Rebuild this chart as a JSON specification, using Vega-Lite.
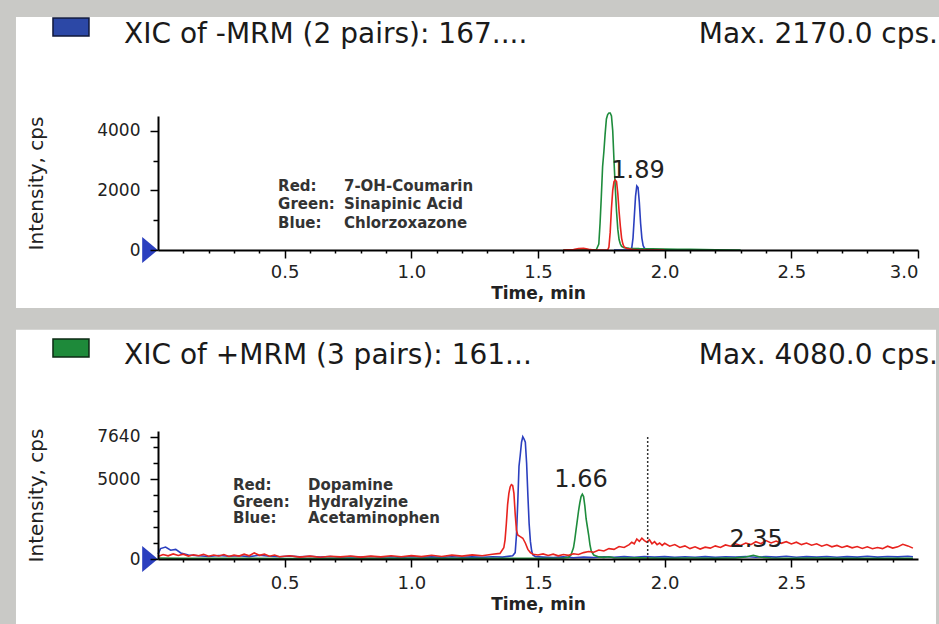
{
  "$schema": "https://vega.github.io/schema/vega-lite/v6.json",
  "background": "#c9c9c6",
  "padding": {"left": 15, "top": 14, "right": 0, "bottom": 0},
  "autosize": {"type": "pad"},
  "spacing": 20,
  "config": {
    "view": {"stroke": null},
    "font": "DejaVu Sans",
    "axis": {"grid": false, "domainColor": "#000", "domainWidth": 2, "tickColor": "#000", "tickWidth": 1.5, "labelColor": "#222", "labelFont": "DejaVu Sans", "titleFont": "DejaVu Sans", "titleColor": "#222"}
  },
  "datasets": {
    "one": [{}],
    "top": [
      {"s":"Blue","t":1.80,"v":0},{"s":"Blue","t":1.86,"v":0},{"s":"Blue","t":1.87,"v":60},{"s":"Blue","t":1.875,"v":400},{"s":"Blue","t":1.88,"v":1100},{"s":"Blue","t":1.885,"v":1800},{"s":"Blue","t":1.89,"v":2150},{"s":"Blue","t":1.895,"v":2100},{"s":"Blue","t":1.90,"v":1600},{"s":"Blue","t":1.905,"v":900},{"s":"Blue","t":1.91,"v":400},{"s":"Blue","t":1.915,"v":150},{"s":"Blue","t":1.92,"v":60},{"s":"Blue","t":1.93,"v":20},{"s":"Blue","t":1.96,"v":10},{"s":"Blue","t":2.0,"v":0},{"s":"Blue","t":2.1,"v":0},
      {"s":"Green","t":1.60,"v":0},{"s":"Green","t":1.70,"v":5},{"s":"Green","t":1.73,"v":10},{"s":"Green","t":1.74,"v":200},{"s":"Green","t":1.745,"v":900},{"s":"Green","t":1.75,"v":1800},{"s":"Green","t":1.755,"v":2800},{"s":"Green","t":1.76,"v":3300},{"s":"Green","t":1.765,"v":3900},{"s":"Green","t":1.77,"v":4400},{"s":"Green","t":1.775,"v":4550},{"s":"Green","t":1.78,"v":4600},{"s":"Green","t":1.785,"v":4600},{"s":"Green","t":1.79,"v":4500},{"s":"Green","t":1.795,"v":4000},{"s":"Green","t":1.80,"v":3000},{"s":"Green","t":1.805,"v":2100},{"s":"Green","t":1.81,"v":1300},{"s":"Green","t":1.815,"v":700},{"s":"Green","t":1.82,"v":350},{"s":"Green","t":1.825,"v":200},{"s":"Green","t":1.83,"v":120},{"s":"Green","t":1.84,"v":80},{"s":"Green","t":1.86,"v":60},{"s":"Green","t":1.90,"v":45},{"s":"Green","t":1.95,"v":40},{"s":"Green","t":2.0,"v":30},{"s":"Green","t":2.05,"v":25},{"s":"Green","t":2.1,"v":20},{"s":"Green","t":2.2,"v":10},{"s":"Green","t":2.3,"v":0},
      {"s":"Red","t":1.60,"v":0},{"s":"Red","t":1.64,"v":15},{"s":"Red","t":1.66,"v":45},{"s":"Red","t":1.68,"v":55},{"s":"Red","t":1.70,"v":25},{"s":"Red","t":1.72,"v":0},{"s":"Red","t":1.775,"v":0},{"s":"Red","t":1.78,"v":100},{"s":"Red","t":1.785,"v":600},{"s":"Red","t":1.79,"v":1400},{"s":"Red","t":1.795,"v":2000},{"s":"Red","t":1.80,"v":2300},{"s":"Red","t":1.805,"v":2350},{"s":"Red","t":1.81,"v":2300},{"s":"Red","t":1.815,"v":1900},{"s":"Red","t":1.82,"v":1300},{"s":"Red","t":1.825,"v":800},{"s":"Red","t":1.83,"v":400},{"s":"Red","t":1.835,"v":200},{"s":"Red","t":1.84,"v":100},{"s":"Red","t":1.85,"v":50},{"s":"Red","t":1.87,"v":20},{"s":"Red","t":1.9,"v":0},{"s":"Red","t":2.0,"v":0}
    ],
    "bottom": [
      {"s":"Blue","t":0.00,"v":300},{"s":"Blue","t":0.01,"v":650},{"s":"Blue","t":0.03,"v":750},{"s":"Blue","t":0.05,"v":550},{"s":"Blue","t":0.07,"v":600},{"s":"Blue","t":0.09,"v":380},{"s":"Blue","t":0.12,"v":250},{"s":"Blue","t":0.16,"v":200},{"s":"Blue","t":0.20,"v":160},{"s":"Blue","t":0.24,"v":220},{"s":"Blue","t":0.28,"v":170},{"s":"Blue","t":0.32,"v":200},{"s":"Blue","t":0.36,"v":150},{"s":"Blue","t":0.40,"v":230},{"s":"Blue","t":0.44,"v":170},{"s":"Blue","t":0.48,"v":140},{"s":"Blue","t":0.52,"v":190},{"s":"Blue","t":0.56,"v":130},{"s":"Blue","t":0.60,"v":170},{"s":"Blue","t":0.64,"v":120},{"s":"Blue","t":0.68,"v":160},{"s":"Blue","t":0.72,"v":110},{"s":"Blue","t":0.76,"v":150},{"s":"Blue","t":0.80,"v":120},{"s":"Blue","t":0.84,"v":160},{"s":"Blue","t":0.88,"v":110},{"s":"Blue","t":0.92,"v":140},{"s":"Blue","t":0.96,"v":100},{"s":"Blue","t":1.00,"v":150},{"s":"Blue","t":1.04,"v":110},{"s":"Blue","t":1.08,"v":130},{"s":"Blue","t":1.12,"v":100},{"s":"Blue","t":1.16,"v":140},{"s":"Blue","t":1.20,"v":110},{"s":"Blue","t":1.24,"v":130},{"s":"Blue","t":1.28,"v":100},{"s":"Blue","t":1.32,"v":140},{"s":"Blue","t":1.36,"v":120},{"s":"Blue","t":1.40,"v":200},{"s":"Blue","t":1.41,"v":400},{"s":"Blue","t":1.415,"v":1500},{"s":"Blue","t":1.42,"v":3500},{"s":"Blue","t":1.425,"v":5800},{"s":"Blue","t":1.43,"v":6500},{"s":"Blue","t":1.435,"v":7300},{"s":"Blue","t":1.44,"v":7640},{"s":"Blue","t":1.445,"v":7500},{"s":"Blue","t":1.45,"v":7300},{"s":"Blue","t":1.455,"v":6000},{"s":"Blue","t":1.46,"v":4000},{"s":"Blue","t":1.465,"v":2200},{"s":"Blue","t":1.47,"v":1100},{"s":"Blue","t":1.475,"v":500},{"s":"Blue","t":1.48,"v":250},{"s":"Blue","t":1.49,"v":150},{"s":"Blue","t":1.52,"v":120},{"s":"Blue","t":1.56,"v":90},{"s":"Blue","t":1.60,"v":130},{"s":"Blue","t":1.64,"v":80},{"s":"Blue","t":1.68,"v":120},{"s":"Blue","t":1.72,"v":90},{"s":"Blue","t":1.76,"v":140},{"s":"Blue","t":1.80,"v":100},{"s":"Blue","t":1.84,"v":150},{"s":"Blue","t":1.88,"v":110},{"s":"Blue","t":1.92,"v":160},{"s":"Blue","t":1.96,"v":120},{"s":"Blue","t":2.00,"v":150},{"s":"Blue","t":2.04,"v":100},{"s":"Blue","t":2.08,"v":140},{"s":"Blue","t":2.12,"v":110},{"s":"Blue","t":2.16,"v":150},{"s":"Blue","t":2.20,"v":100},{"s":"Blue","t":2.24,"v":140},{"s":"Blue","t":2.28,"v":120},{"s":"Blue","t":2.32,"v":160},{"s":"Blue","t":2.36,"v":110},{"s":"Blue","t":2.40,"v":150},{"s":"Blue","t":2.44,"v":120},{"s":"Blue","t":2.48,"v":170},{"s":"Blue","t":2.52,"v":110},{"s":"Blue","t":2.56,"v":150},{"s":"Blue","t":2.60,"v":120},{"s":"Blue","t":2.64,"v":160},{"s":"Blue","t":2.68,"v":110},{"s":"Blue","t":2.72,"v":150},{"s":"Blue","t":2.76,"v":120},{"s":"Blue","t":2.80,"v":170},{"s":"Blue","t":2.84,"v":120},{"s":"Blue","t":2.88,"v":160},{"s":"Blue","t":2.92,"v":130},{"s":"Blue","t":2.96,"v":170},{"s":"Blue","t":2.98,"v":140},
      {"s":"Green","t":0.00,"v":60},{"s":"Green","t":0.10,"v":40},{"s":"Green","t":0.30,"v":50},{"s":"Green","t":0.50,"v":30},{"s":"Green","t":0.70,"v":50},{"s":"Green","t":0.90,"v":40},{"s":"Green","t":1.10,"v":50},{"s":"Green","t":1.30,"v":40},{"s":"Green","t":1.50,"v":50},{"s":"Green","t":1.60,"v":60},{"s":"Green","t":1.62,"v":100},{"s":"Green","t":1.63,"v":250},{"s":"Green","t":1.64,"v":700},{"s":"Green","t":1.645,"v":1200},{"s":"Green","t":1.65,"v":1800},{"s":"Green","t":1.655,"v":2400},{"s":"Green","t":1.66,"v":3000},{"s":"Green","t":1.665,"v":3500},{"s":"Green","t":1.67,"v":3900},{"s":"Green","t":1.675,"v":4050},{"s":"Green","t":1.68,"v":3900},{"s":"Green","t":1.685,"v":3300},{"s":"Green","t":1.69,"v":2500},{"s":"Green","t":1.695,"v":2000},{"s":"Green","t":1.70,"v":1500},{"s":"Green","t":1.705,"v":900},{"s":"Green","t":1.71,"v":500},{"s":"Green","t":1.72,"v":250},{"s":"Green","t":1.74,"v":130},{"s":"Green","t":1.76,"v":100},{"s":"Green","t":1.78,"v":140},{"s":"Green","t":1.80,"v":80},{"s":"Green","t":1.85,"v":60},{"s":"Green","t":1.90,"v":70},{"s":"Green","t":2.00,"v":50},{"s":"Green","t":2.10,"v":60},{"s":"Green","t":2.20,"v":50},{"s":"Green","t":2.28,"v":70},{"s":"Green","t":2.32,"v":120},{"s":"Green","t":2.35,"v":230},{"s":"Green","t":2.38,"v":110},{"s":"Green","t":2.42,"v":60},{"s":"Green","t":2.50,"v":50},{"s":"Green","t":2.60,"v":60},{"s":"Green","t":2.70,"v":40},{"s":"Green","t":2.80,"v":50},{"s":"Green","t":2.90,"v":40},{"s":"Green","t":2.98,"v":50},
      {"s":"Red","t":0.00,"v":150},{"s":"Red","t":0.02,"v":280},{"s":"Red","t":0.04,"v":200},{"s":"Red","t":0.06,"v":320},{"s":"Red","t":0.08,"v":220},{"s":"Red","t":0.10,"v":300},{"s":"Red","t":0.12,"v":180},{"s":"Red","t":0.14,"v":260},{"s":"Red","t":0.16,"v":200},{"s":"Red","t":0.18,"v":290},{"s":"Red","t":0.20,"v":170},{"s":"Red","t":0.22,"v":250},{"s":"Red","t":0.24,"v":190},{"s":"Red","t":0.26,"v":280},{"s":"Red","t":0.28,"v":160},{"s":"Red","t":0.30,"v":240},{"s":"Red","t":0.32,"v":180},{"s":"Red","t":0.34,"v":300},{"s":"Red","t":0.36,"v":200},{"s":"Red","t":0.38,"v":380},{"s":"Red","t":0.40,"v":230},{"s":"Red","t":0.42,"v":300},{"s":"Red","t":0.44,"v":170},{"s":"Red","t":0.46,"v":250},{"s":"Red","t":0.48,"v":140},{"s":"Red","t":0.52,"v":200},{"s":"Red","t":0.56,"v":120},{"s":"Red","t":0.60,"v":180},{"s":"Red","t":0.64,"v":110},{"s":"Red","t":0.68,"v":170},{"s":"Red","t":0.72,"v":130},{"s":"Red","t":0.76,"v":190},{"s":"Red","t":0.80,"v":120},{"s":"Red","t":0.84,"v":180},{"s":"Red","t":0.88,"v":130},{"s":"Red","t":0.92,"v":200},{"s":"Red","t":0.96,"v":140},{"s":"Red","t":1.00,"v":210},{"s":"Red","t":1.04,"v":150},{"s":"Red","t":1.08,"v":230},{"s":"Red","t":1.12,"v":160},{"s":"Red","t":1.16,"v":240},{"s":"Red","t":1.20,"v":180},{"s":"Red","t":1.24,"v":260},{"s":"Red","t":1.28,"v":200},{"s":"Red","t":1.32,"v":300},{"s":"Red","t":1.35,"v":350},{"s":"Red","t":1.365,"v":700},{"s":"Red","t":1.37,"v":1200},{"s":"Red","t":1.375,"v":2200},{"s":"Red","t":1.38,"v":3400},{"s":"Red","t":1.385,"v":4100},{"s":"Red","t":1.39,"v":4500},{"s":"Red","t":1.395,"v":4650},{"s":"Red","t":1.40,"v":4600},{"s":"Red","t":1.405,"v":4100},{"s":"Red","t":1.41,"v":2800},{"s":"Red","t":1.415,"v":1800},{"s":"Red","t":1.42,"v":1500},{"s":"Red","t":1.43,"v":1400},{"s":"Red","t":1.44,"v":1300},{"s":"Red","t":1.45,"v":1000},{"s":"Red","t":1.46,"v":600},{"s":"Red","t":1.47,"v":400},{"s":"Red","t":1.48,"v":300},{"s":"Red","t":1.50,"v":250},{"s":"Red","t":1.52,"v":320},{"s":"Red","t":1.54,"v":220},{"s":"Red","t":1.56,"v":300},{"s":"Red","t":1.58,"v":200},{"s":"Red","t":1.60,"v":280},{"s":"Red","t":1.62,"v":230},{"s":"Red","t":1.64,"v":330},{"s":"Red","t":1.66,"v":280},{"s":"Red","t":1.68,"v":400},{"s":"Red","t":1.70,"v":470},{"s":"Red","t":1.72,"v":420},{"s":"Red","t":1.74,"v":560},{"s":"Red","t":1.76,"v":500},{"s":"Red","t":1.78,"v":650},{"s":"Red","t":1.80,"v":600},{"s":"Red","t":1.82,"v":780},{"s":"Red","t":1.84,"v":720},{"s":"Red","t":1.86,"v":900},{"s":"Red","t":1.87,"v":1050},{"s":"Red","t":1.88,"v":950},{"s":"Red","t":1.89,"v":1250},{"s":"Red","t":1.90,"v":1100},{"s":"Red","t":1.91,"v":1300},{"s":"Red","t":1.92,"v":1150},{"s":"Red","t":1.93,"v":1050},{"s":"Red","t":1.94,"v":1200},{"s":"Red","t":1.95,"v":950},{"s":"Red","t":1.96,"v":1080},{"s":"Red","t":1.97,"v":900},{"s":"Red","t":1.98,"v":1000},{"s":"Red","t":1.99,"v":850},{"s":"Red","t":2.00,"v":980},{"s":"Red","t":2.02,"v":800},{"s":"Red","t":2.04,"v":900},{"s":"Red","t":2.06,"v":720},{"s":"Red","t":2.08,"v":820},{"s":"Red","t":2.10,"v":650},{"s":"Red","t":2.12,"v":760},{"s":"Red","t":2.14,"v":620},{"s":"Red","t":2.16,"v":740},{"s":"Red","t":2.18,"v":680},{"s":"Red","t":2.20,"v":820},{"s":"Red","t":2.22,"v":720},{"s":"Red","t":2.24,"v":880},{"s":"Red","t":2.26,"v":800},{"s":"Red","t":2.28,"v":950},{"s":"Red","t":2.30,"v":850},{"s":"Red","t":2.32,"v":1000},{"s":"Red","t":2.34,"v":900},{"s":"Red","t":2.36,"v":1080},{"s":"Red","t":2.38,"v":960},{"s":"Red","t":2.40,"v":1150},{"s":"Red","t":2.42,"v":1000},{"s":"Red","t":2.44,"v":1120},{"s":"Red","t":2.46,"v":980},{"s":"Red","t":2.48,"v":1080},{"s":"Red","t":2.50,"v":940},{"s":"Red","t":2.52,"v":1050},{"s":"Red","t":2.54,"v":900},{"s":"Red","t":2.56,"v":1000},{"s":"Red","t":2.58,"v":860},{"s":"Red","t":2.60,"v":950},{"s":"Red","t":2.62,"v":800},{"s":"Red","t":2.64,"v":900},{"s":"Red","t":2.66,"v":760},{"s":"Red","t":2.68,"v":850},{"s":"Red","t":2.70,"v":720},{"s":"Red","t":2.72,"v":820},{"s":"Red","t":2.74,"v":700},{"s":"Red","t":2.76,"v":780},{"s":"Red","t":2.78,"v":660},{"s":"Red","t":2.80,"v":760},{"s":"Red","t":2.82,"v":640},{"s":"Red","t":2.84,"v":720},{"s":"Red","t":2.86,"v":650},{"s":"Red","t":2.88,"v":800},{"s":"Red","t":2.90,"v":680},{"s":"Red","t":2.92,"v":760},{"s":"Red","t":2.94,"v":920},{"s":"Red","t":2.96,"v":820},{"s":"Red","t":2.98,"v":680}
    ],
    "topLegend": [
      {"k":"Red:","n":"7-OH-Coumarin","v":2149},
      {"k":"Green:","n":"Sinapinic Acid","v":1545},
      {"k":"Blue:","n":"Chlorzoxazone","v":907}
    ],
    "bottomLegend": [
      {"k":"Red:","n":"Dopamine","v":4596},
      {"k":"Green:","n":"Hydralyzine","v":3581},
      {"k":"Blue:","n":"Acetaminophen","v":2567}
    ],
    "topPeaks": [{"t":1.895,"v":2653,"label":"1.89"}],
    "bottomPeaks": [{"t":1.67,"v":4954,"label":"1.66"},{"t":2.361,"v":1194,"label":"2.35"}]
  },
  "vconcat": [
    {
      "width": 760,
      "height": 134,
      "resolve": {"axis": {"x": "independent", "y": "independent"}},
      "layer": [
        {
          "data": {"name": "one"},
          "mark": {"type": "rect", "color": "#ffffff"},
          "encoding": {
            "x": {"datum": -0.5606, "type": "quantitative", "scale": {"domain": [0, 3]},
                  "axis": {"zindex": 1, "orient": "bottom", "values": [0.1,0.2,0.3,0.4,0.6,0.7,0.8,0.9,1.1,1.2,1.3,1.4,1.6,1.7,1.8,1.9,2.1,2.2,2.3,2.4,2.6,2.7,2.8,2.9], "labels": false, "domain": false, "tickSize": 3, "title": null}},
            "x2": {"datum": 3.0868},
            "y": {"datum": -1948, "type": "quantitative", "scale": {"domain": [0, 4500]},
                  "axis": {"zindex": 1, "orient": "left", "values": [1000, 3000], "labels": false, "domain": false, "tickSize": 5, "title": null}},
            "y2": {"datum": 7825}
          }
        },
        {
          "data": {"name": "top"},
          "mark": {"type": "line", "strokeWidth": 1.6},
          "encoding": {
            "x": {"field": "t", "type": "quantitative", "scale": {"domain": [0, 3]},
                  "axis": {"zindex": 1, "orient": "bottom", "values": [0.5, 1, 1.5, 2, 2.5, 3], "format": ".1f", "tickSize": 8, "labelFontSize": 18, "labelPadding": 5, "title": "Time, min", "titleFontSize": 17, "titleFontWeight": "bold", "titlePadding": 4}},
            "y": {"field": "v", "type": "quantitative", "scale": {"domain": [0, 4500]},
                  "axis": {"zindex": 1, "orient": "left", "values": [0, 2000, 4000], "format": "d", "tickSize": 8, "labelFontSize": 17, "labelPadding": 10, "title": "Intensity, cps", "titleFontSize": 20, "titleFontWeight": "normal", "titlePadding": 50}},
            "color": {"field": "s", "type": "nominal", "scale": {"domain": ["Red", "Green", "Blue"], "range": ["#e8231e", "#1e8c3c", "#2b3fbf"]}, "legend": null},
            "detail": {"field": "s"}
          }
        },
        {
          "data": {"name": "one"},
          "mark": {"type": "point", "shape": "M-0.6,-1L0.6,0L-0.6,1Z", "filled": true, "size": 676, "color": "#2b3fbf", "opacity": 1, "xOffset": -8},
          "encoding": {
            "x": {"datum": 0, "type": "quantitative", "axis": null},
            "y": {"datum": 0, "type": "quantitative", "axis": null}
          }
        },
        {
          "data": {"name": "one"},
          "mark": {"type": "point", "shape": "M-1,-0.5L1,-0.5L1,0.5L-1,0.5Z", "filled": true, "size": 1296, "color": "#2c48a6", "stroke": "#10183a", "strokeWidth": 1.5, "opacity": 1},
          "encoding": {
            "x": {"datum": -0.3435, "type": "quantitative", "axis": null},
            "y": {"datum": 7489, "type": "quantitative", "axis": null}
          }
        },
        {
          "data": {"name": "one"},
          "mark": {"type": "text", "align": "left", "baseline": "middle", "fontSize": 28, "color": "#1a1a1a", "text": "XIC of -MRM (2 pairs): 167...."},
          "encoding": {
            "x": {"datum": -0.134, "type": "quantitative", "axis": null},
            "y": {"datum": 7220, "type": "quantitative", "axis": null}
          }
        },
        {
          "data": {"name": "one"},
          "mark": {"type": "text", "align": "right", "baseline": "middle", "fontSize": 28, "color": "#1a1a1a", "text": "Max. 2170.0 cps."},
          "encoding": {
            "x": {"datum": 3.079, "type": "quantitative", "axis": null},
            "y": {"datum": 7220, "type": "quantitative", "axis": null}
          }
        },
        {
          "data": {"name": "topLegend"},
          "mark": {"type": "text", "align": "left", "baseline": "middle", "fontSize": 15, "fontWeight": "bold", "color": "#333"},
          "encoding": {
            "x": {"datum": 0.474, "type": "quantitative", "axis": null},
            "y": {"field": "v", "type": "quantitative", "axis": null},
            "text": {"field": "k"}
          }
        },
        {
          "data": {"name": "topLegend"},
          "mark": {"type": "text", "align": "left", "baseline": "middle", "fontSize": 15, "fontWeight": "bold", "color": "#333"},
          "encoding": {
            "x": {"datum": 0.734, "type": "quantitative", "axis": null},
            "y": {"field": "v", "type": "quantitative", "axis": null},
            "text": {"field": "n"}
          }
        },
        {
          "data": {"name": "topPeaks"},
          "mark": {"type": "text", "align": "center", "baseline": "middle", "fontSize": 24, "color": "#222"},
          "encoding": {
            "x": {"field": "t", "type": "quantitative", "axis": null},
            "y": {"field": "v", "type": "quantitative", "axis": null},
            "text": {"field": "label"}
          }
        }
      ]
    },
    {
      "width": 760,
      "height": 128,
      "resolve": {"axis": {"x": "independent", "y": "independent"}},
      "layer": [
        {
          "data": {"name": "one"},
          "mark": {"type": "rect", "color": "#ffffff"},
          "encoding": {
            "x": {"datum": -0.5606, "type": "quantitative", "scale": {"domain": [0, 3]},
                  "axis": {"zindex": 1, "orient": "bottom", "values": [0.1,0.2,0.3,0.4,0.6,0.7,0.8,0.9,1.1,1.2,1.3,1.4,1.6,1.7,1.8,1.9,2.1,2.2,2.3,2.4,2.6,2.7,2.8,2.9], "labels": false, "domain": false, "tickSize": 3, "title": null}},
            "x2": {"datum": 3.071},
            "y": {"datum": -4500, "type": "quantitative", "scale": {"domain": [0, 7640]},
                  "axis": {"zindex": 1, "orient": "left", "values": [1000, 2000, 3000, 4000, 6000, 7000], "labels": false, "domain": false, "tickSize": 5, "title": null}},
            "y2": {"datum": 14325}
          }
        },
        {
          "data": {"name": "bottom"},
          "mark": {"type": "line", "strokeWidth": 1.6},
          "encoding": {
            "x": {"field": "t", "type": "quantitative", "scale": {"domain": [0, 3]},
                  "axis": {"zindex": 1, "orient": "bottom", "values": [0.5, 1, 1.5, 2, 2.5], "format": ".1f", "tickSize": 8, "labelFontSize": 18, "labelPadding": 7, "title": "Time, min", "titleFontSize": 17, "titleFontWeight": "bold", "titlePadding": 4}},
            "y": {"field": "v", "type": "quantitative", "scale": {"domain": [0, 7640]},
                  "axis": {"zindex": 1, "orient": "left", "values": [0, 5000, 7640], "format": "d", "tickSize": 8, "labelFontSize": 17, "labelPadding": 10, "title": "Intensity, cps", "titleFontSize": 20, "titleFontWeight": "normal", "titlePadding": 50}},
            "color": {"field": "s", "type": "nominal", "scale": {"domain": ["Red", "Green", "Blue"], "range": ["#e8231e", "#1e8c3c", "#2b3fbf"]}, "legend": null},
            "detail": {"field": "s"}
          }
        },
        {
          "data": {"name": "one"},
          "mark": {"type": "rule", "color": "#333", "strokeWidth": 1.5, "strokeDash": [2, 2]},
          "encoding": {
            "x": {"datum": 1.933, "type": "quantitative", "axis": null},
            "y": {"datum": 0, "type": "quantitative", "axis": null},
            "y2": {"datum": 7640}
          }
        },
        {
          "data": {"name": "one"},
          "mark": {"type": "point", "shape": "M-0.6,-1L0.6,0L-0.6,1Z", "filled": true, "size": 676, "color": "#2b3fbf", "opacity": 1, "xOffset": -8},
          "encoding": {
            "x": {"datum": 0, "type": "quantitative", "axis": null},
            "y": {"datum": 0, "type": "quantitative", "axis": null}
          }
        },
        {
          "data": {"name": "one"},
          "mark": {"type": "point", "shape": "M-1,-0.5L1,-0.5L1,0.5L-1,0.5Z", "filled": true, "size": 1296, "color": "#1e8a3a", "stroke": "#0c2a14", "strokeWidth": 1.5, "opacity": 1},
          "encoding": {
            "x": {"datum": -0.3435, "type": "quantitative", "axis": null},
            "y": {"datum": 13191, "type": "quantitative", "axis": null}
          }
        },
        {
          "data": {"name": "one"},
          "mark": {"type": "text", "align": "left", "baseline": "middle", "fontSize": 28, "color": "#1a1a1a", "text": "XIC of +MRM (3 pairs): 161..."},
          "encoding": {
            "x": {"datum": -0.134, "type": "quantitative", "axis": null},
            "y": {"datum": 12713, "type": "quantitative", "axis": null}
          }
        },
        {
          "data": {"name": "one"},
          "mark": {"type": "text", "align": "right", "baseline": "middle", "fontSize": 28, "color": "#1a1a1a", "text": "Max. 4080.0 cps."},
          "encoding": {
            "x": {"datum": 3.079, "type": "quantitative", "axis": null},
            "y": {"datum": 12713, "type": "quantitative", "axis": null}
          }
        },
        {
          "data": {"name": "bottomLegend"},
          "mark": {"type": "text", "align": "left", "baseline": "middle", "fontSize": 15, "fontWeight": "bold", "color": "#333"},
          "encoding": {
            "x": {"datum": 0.296, "type": "quantitative", "axis": null},
            "y": {"field": "v", "type": "quantitative", "axis": null},
            "text": {"field": "k"}
          }
        },
        {
          "data": {"name": "bottomLegend"},
          "mark": {"type": "text", "align": "left", "baseline": "middle", "fontSize": 15, "fontWeight": "bold", "color": "#333"},
          "encoding": {
            "x": {"datum": 0.592, "type": "quantitative", "axis": null},
            "y": {"field": "v", "type": "quantitative", "axis": null},
            "text": {"field": "n"}
          }
        },
        {
          "data": {"name": "bottomPeaks"},
          "mark": {"type": "text", "align": "center", "baseline": "middle", "fontSize": 24, "color": "#222"},
          "encoding": {
            "x": {"field": "t", "type": "quantitative", "axis": null},
            "y": {"field": "v", "type": "quantitative", "axis": null},
            "text": {"field": "label"}
          }
        }
      ]
    }
  ]
}
